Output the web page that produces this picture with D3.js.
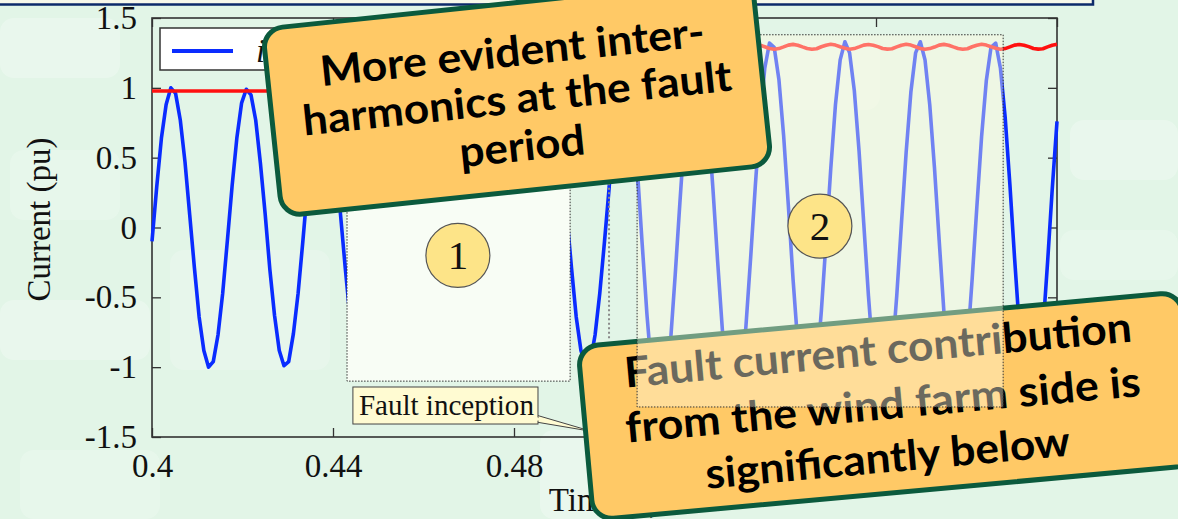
<!DOCTYPE html>
<html>
<head>
<meta charset="utf-8">
<script src="https://cdn.jsdelivr.net/npm/d3@7"></script>
<style>
  html, body { margin: 0; padding: 0; background: #e2f5e7; }
  svg { display: block; }
</style>
</head>
<body>
<svg id="slide" width="1178" height="519"></svg>
<script>
// ---- recorded wind-farm current, sampled at 960 Hz from t = 0.4 s ----
const tStart = 0.4;
const sampleStep = 1 / 960;

// pre-fault samples (pu)
const currentPreFault = [
  -0.10, 0.29, 0.64, 0.88, 1.00, 0.96, 0.77, 0.47, 0.09, -0.29, -0.64, -0.88, -1.00, -0.96, -0.77, -0.47,
  -0.09, 0.30, 0.64, 0.89, 0.99, 0.95, 0.77, 0.46, 0.10, -0.30, -0.63, -0.88, -0.99, -0.96, -0.76, -0.47,
  -0.10, 0.29, 0.63, 0.88, 1.00, 0.96, 0.78, 0.47, 0.09, -0.29, -0.64, -0.89, -1.00, -0.95, -0.77, -0.46,
  -0.09, 0.30, 0.64, 0.88, 0.99, 0.96, 0.77, 0.47, 0.10, -0.29, -0.64, -0.88, -0.99, -0.96, -0.77, -0.47,
  -0.10, 0.29, 0.64, 0.89, 1.00, 0.95, 0.77, 0.46, 0.09, -0.30, -0.63, -0.88, -1.00, -0.96, -0.78, -0.47,
  -0.09, 0.29, 0.63, 0.88, 0.99, 0.96, 0.77, 0.47, 0.09, -0.29, -0.64, -0.88, -0.99, -0.96, -0.77, -0.47,
  -0.10, 0.29
];

// fault-period samples (pu), continuing right after the pre-fault ones
const currentFault = [
  0.85, 1.26, 1.33, 1.19, 0.87, 0.40, -0.12, -0.62, -1.03, -1.28, -1.32, -1.16, -0.82, -0.34,
  0.18, 0.68, 1.07, 1.29, 1.31, 1.13, 0.76, 0.28, -0.24, -0.73, -1.11, -1.31, -1.30, -1.09, -0.71, -0.22,
  0.30, 0.78, 1.14, 1.32, 1.29, 1.06, 0.66, 0.16, -0.37, -0.83, -1.17, -1.32, -1.27, -1.02, -0.60, -0.10,
  0.42, 0.88, 1.20, 1.33, 1.25, 0.98, 0.55, 0.03, -0.49, -0.93, -1.22, -1.33, -1.23, -0.93, -0.49, 0.03,
  0.54, 0.97, 1.25, 1.33, 1.20, 0.88, 0.43, -0.09, -0.60, -1.01, -1.27, -1.32, -1.17, -0.84, -0.37, 0.15,
  0.65, 1.05, 1.29, 1.32, 1.14, 0.79, 0.31, -0.22, -0.71, -1.09, -1.30, -1.31, -1.11, -0.74, -0.25, 0.28,
  0.76
];

// peak envelope (pu): flat before the fault, rippling during it
const peakPreFault = 0.977;
const peakFaultStart = 99;      // sample index where the fault envelope begins
const peakFault = [
  1.25, 1.276, 1.281, 1.293, 1.305,
  1.31, 1.305, 1.294, 1.282, 1.276, 1.28, 1.293, 1.305,
  1.312, 1.306, 1.294, 1.283, 1.276, 1.281, 1.292, 1.306,
  1.31, 1.305, 1.295, 1.282, 1.277, 1.28, 1.293, 1.305,
  1.312, 1.306, 1.294, 1.282, 1.276, 1.281, 1.293, 1.306,
  1.311, 1.305, 1.293, 1.282, 1.276, 1.28, 1.294, 1.305,
  1.312, 1.306, 1.294, 1.283, 1.276, 1.281, 1.293, 1.306,
  1.31, 1.305, 1.295, 1.282, 1.277, 1.28, 1.293, 1.305,
  1.312, 1.306, 1.294, 1.282, 1.276, 1.281, 1.292, 1.306,
  1.311, 1.305, 1.293, 1.282, 1.276, 1.28, 1.294, 1.305,
  1.312, 1.306, 1.294, 1.283, 1.276, 1.281, 1.293, 1.306,
  1.31, 1.305, 1.295, 1.282, 1.277, 1.28, 1.293, 1.305,
  1.312
];

// axes
const xTicks = [0.4, 0.44, 0.48, 0.52, 0.56, 0.6];
const xTickLabels = ["0.4", "0.44", "0.48", "0.52", "0.56", "0.6"];
const yTicks = [-1.5, -1, -0.5, 0, 0.5, 1, 1.5];
const yTickLabels = ["-1.5", "-1", "-0.5", "0", "0.5", "1", "1.5"];

// highlighted periods and markers (data units)
const periodOne = { t0: 0.4431, t1: 0.4924, top: 1.38, bottom: -1.10, label: "1", at: [0.4676, -0.20] };
const periodTwo = { t0: 0.5072, t1: 0.5881, top: 1.38, bottom: -1.285, label: "2", at: [0.5476, 0.01] };
const faultInstant = { t: 0.501, top: 1.38, bottom: -0.80 };
const faultLabel = { text: "Fault inception", t0: 0.4444, t1: 0.4853, top: -1.142, bottom: -1.407, tip: [0.4972, -1.46] };

const calloutTop = ["More evident inter-", "harmonics at the fault", "period"];
const calloutBottom = ["Fault current contribution", "from the wind farm side is", "significantly below"];

// ---------------------------------------------------------------
const W = 1178, H = 519;
const svg = d3.select("#slide");
const serif = "'Liberation Serif', 'Times New Roman', serif";
const sans = "Lato, 'Open Sans', sans-serif";
const BLUE = "#0a2cff", RED = "#ff1010";

// slide background with faint watermark blocks
svg.append("rect").attr("width", W).attr("height", H).attr("fill", "#e2f5e7");
const wm = svg.append("g").attr("fill", "#ffffff");
[[0, 18, 120, 60, 0.25], [10, 150, 110, 70, 0.2], [0, 300, 150, 60, 0.25], [20, 450, 140, 69, 0.2],
 [170, 250, 160, 120, 0.18], [540, 430, 120, 89, 0.25], [700, 40, 180, 70, 0.2], [1070, 120, 108, 60, 0.25],
 [1060, 230, 118, 50, 0.2]].forEach(([x, y, w, h, o]) =>
  wm.append("rect").attr("x", x).attr("y", y).attr("width", w).attr("height", h).attr("rx", 14).attr("opacity", o));

// strip of the slide header box
svg.append("rect").attr("x", -4).attr("y", -40).attr("width", 1097).attr("height", 44.5)
  .attr("fill", "#f7f8ea").attr("stroke", "#0c2a6a").attr("stroke-width", 2.5);

// ---- chart ----
const x = d3.scaleLinear().domain([0.4, 0.6]).range([152, 1057]);
const y = d3.scaleLinear().domain([-1.5, 1.5]).range([437, 18]);

const plot = svg.append("g");
const axisStyle = g => {
  g.select(".domain").remove();
  g.selectAll(".tick line").attr("stroke", "#333").attr("stroke-width", 1.3);
  g.selectAll("text").attr("font-family", serif).attr("font-size", 33).attr("fill", "#111");
};
plot.append("g").attr("transform", `translate(0,${y(-1.5)})`)
  .call(d3.axisBottom(x).tickValues(xTicks).tickSize(-9).tickPadding(17)
    .tickFormat((d, i) => xTickLabels[i]))
  .call(axisStyle);
plot.append("g").attr("transform", `translate(0,${y(1.5)})`)
  .call(d3.axisTop(x).tickValues(xTicks).tickSize(-9).tickFormat(""))
  .call(axisStyle);
plot.append("g").attr("transform", `translate(${x(0.4)},0)`)
  .call(d3.axisLeft(y).tickValues(yTicks).tickSize(-9).tickPadding(15)
    .tickFormat((d, i) => yTickLabels[i]))
  .call(axisStyle);
plot.append("g").attr("transform", `translate(${x(0.6)},0)`)
  .call(d3.axisRight(y).tickValues(yTicks).tickSize(-9).tickFormat(""))
  .call(axisStyle);

plot.append("rect").attr("x", x(0.4)).attr("y", y(1.5))
  .attr("width", x(0.6) - x(0.4)).attr("height", y(-1.5) - y(1.5))
  .attr("fill", "none").attr("stroke", "#333").attr("stroke-width", 1.6);

plot.append("text").attr("transform", `translate(50,${(y(1.5) + y(-1.5)) / 2 - 8}) rotate(-90)`)
  .attr("text-anchor", "middle").attr("font-family", serif).attr("font-size", 33)
  .attr("fill", "#111").text("Current (pu)");
plot.append("text").attr("x", (x(0.4) + x(0.6)) / 2).attr("y", 511)
  .attr("text-anchor", "middle").attr("font-family", serif).attr("font-size", 33)
  .attr("fill", "#111").text("Time (s)");

const current = currentPreFault.concat(currentFault).map((v, i) => ({ t: tStart + i * sampleStep, v }));
const envelope = [
  { t: tStart, v: peakPreFault },
  { t: tStart + (peakFaultStart - 1) * sampleStep, v: peakPreFault }
].concat(peakFault.map((v, i) => ({ t: tStart + (peakFaultStart + i) * sampleStep, v })));

const line = d3.line().x(d => x(d.t)).y(d => y(d.v));
plot.append("path").datum(current).attr("d", line)
  .attr("fill", "none").attr("stroke", BLUE).attr("stroke-width", 3.6).attr("stroke-linejoin", "round");
plot.append("path").datum(envelope).attr("d", line)
  .attr("fill", "none").attr("stroke", RED).attr("stroke-width", 3.6).attr("stroke-linejoin", "round");

// legend
const legend = plot.append("g");
legend.append("rect").attr("x", 160).attr("y", 28).attr("width", 240).attr("height", 42)
  .attr("fill", "#ffffff").attr("stroke", "#333").attr("stroke-width", 1.5);
legend.append("line").attr("x1", 172).attr("x2", 233).attr("y1", 51).attr("y2", 51)
  .attr("stroke", BLUE).attr("stroke-width", 4);
const lt = legend.append("text").attr("x", 256).attr("y", 62).attr("font-family", serif)
  .attr("font-size", 33).attr("font-style", "italic").attr("fill", "#111").text("i");
lt.append("tspan").attr("font-size", 22).attr("dy", 6).text("wf");

// ---- highlighted periods ----
function periodBox(p, opts) {
  return svg.append("rect")
    .attr("x", x(p.t0)).attr("y", y(p.top))
    .attr("width", x(p.t1) - x(p.t0)).attr("height", y(p.bottom) - y(p.top))
    .attr("fill", opts.fill).attr("fill-opacity", opts.opacity)
    .attr("stroke", "#333").attr("stroke-width", 1).attr("stroke-dasharray", "1.5,1.5");
}
function badge(p) {
  const g = svg.append("g").attr("transform", `translate(${x(p.at[0])},${y(p.at[1])})`);
  g.append("circle").attr("r", 32).attr("fill", "#fde488").attr("stroke", "#555").attr("stroke-width", 1.2);
  g.append("text").attr("text-anchor", "middle").attr("y", 14).attr("font-family", serif)
    .attr("font-size", 41).attr("fill", "#111").text(p.label);
}

periodBox(periodOne, { fill: "#f8fdf5", opacity: 1 });
badge(periodOne);

// fault inception marker
svg.append("line").attr("x1", x(faultInstant.t)).attr("x2", x(faultInstant.t))
  .attr("y1", y(faultInstant.top)).attr("y2", y(faultInstant.bottom))
  .attr("stroke", "#8a8a8a").attr("stroke-width", 2).attr("stroke-dasharray", "2,2.5");

const fl = faultLabel;
svg.append("polygon")
  .attr("points", [[x(fl.t1) - 2, y(fl.bottom) - 9], [x(fl.t1) - 2, y(fl.bottom) - 2], [x(fl.tip[0]), y(fl.tip[1])]].join(" "))
  .attr("fill", "#fffbd2").attr("stroke", "#444").attr("stroke-width", 1);
svg.append("rect").attr("x", x(fl.t0)).attr("y", y(fl.top))
  .attr("width", x(fl.t1) - x(fl.t0)).attr("height", y(fl.bottom) - y(fl.top))
  .attr("fill", "#fffbd2").attr("stroke", "#444").attr("stroke-width", 1);
svg.append("polygon")
  .attr("points", [[x(fl.t1) - 3, y(fl.bottom) - 8], [x(fl.t1) - 3, y(fl.bottom) - 3], [x(fl.t1) + 4, y(fl.bottom) - 4]].join(" "))
  .attr("fill", "#fffbd2");
svg.append("text").attr("x", x(fl.t0) + 6).attr("y", y(fl.bottom) - 9)
  .attr("font-family", serif).attr("font-size", 30).attr("fill", "#111")
  .attr("textLength", 175).attr("lengthAdjust", "spacingAndGlyphs").text(fl.text);

// ---- callouts ----
function callout(cx, cy, w, h, angle, lines, layout) {
  const g = svg.append("g").attr("transform", `translate(${cx},${cy}) rotate(${angle})`);
  g.append("rect").attr("x", -w / 2).attr("y", -h / 2).attr("width", w).attr("height", h)
    .attr("rx", 20).attr("fill", "#ffc966").attr("stroke", "#0b5a3d").attr("stroke-width", 5);
  lines.forEach((s, i) => {
    g.append("text").attr("x", layout.dx).attr("y", layout.baselines[i])
      .attr("text-anchor", "middle").attr("font-family", sans).attr("font-weight", 700)
      .attr("font-size", 42).attr("fill", "#000")
      .attr("textLength", layout.lengths[i]).attr("lengthAdjust", "spacingAndGlyphs")
      .text(s);
  });
}

callout(887, 406, 605, 174, -5.2, calloutBottom,
  { dx: -4, baselines: [-42, 13, 66], lengths: [509, 517, 366] });

periodBox(periodTwo, { fill: "#fffbe0", opacity: 0.42 });
badge(periodTwo);

callout(517, 97, 492, 188, -6, calloutTop,
  { dx: 0, baselines: [-31, 16, 64], lengths: [386, 431, 126] });
</script>
</body>
</html>
